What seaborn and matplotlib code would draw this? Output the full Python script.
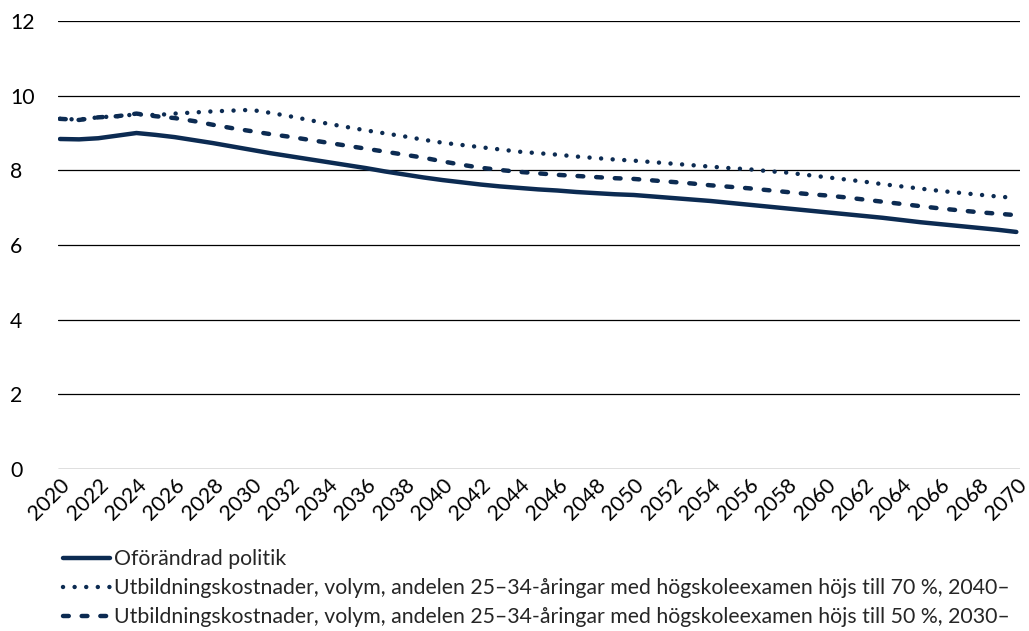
import pandas as pd
import matplotlib.pyplot as plt
import seaborn as sns

# --- Datos ---
years = list(range(2020, 2071))

oforandrad = [8.84, 8.83, 8.86, 8.93, 9.00, 8.95, 8.89, 8.81, 8.73, 8.64,
              8.55, 8.46, 8.38, 8.30, 8.22, 8.14, 8.06, 7.97, 7.89, 7.81,
              7.74, 7.68, 7.62, 7.57, 7.53, 7.49, 7.46, 7.42, 7.39, 7.36,
              7.34, 7.30, 7.26, 7.22, 7.18, 7.13, 7.08, 7.03, 6.98, 6.93,
              6.88, 6.83, 6.78, 6.73, 6.67, 6.61, 6.56, 6.51, 6.46, 6.41,
              6.35]

hojs_70 = [9.38, 9.36, 9.42, 9.45, 9.50, 9.48, 9.52, 9.55, 9.58, 9.60,
           9.62, 9.54, 9.45, 9.35, 9.25, 9.16, 9.07, 8.99, 8.91, 8.82,
           8.74, 8.68, 8.62, 8.56, 8.50, 8.46, 8.42, 8.37, 8.33, 8.29,
           8.26, 8.22, 8.18, 8.14, 8.10, 8.06, 8.03, 7.98, 7.94, 7.88,
           7.82, 7.76, 7.70, 7.63, 7.57, 7.51, 7.45, 7.40, 7.35, 7.30,
           7.26]

hojs_50 = [9.38, 9.35, 9.42, 9.45, 9.52, 9.45, 9.40, 9.32, 9.22, 9.13,
           9.05, 8.97, 8.90, 8.82, 8.74, 8.66, 8.58, 8.50, 8.42, 8.34,
           8.24, 8.15, 8.07, 8.01, 7.96, 7.92, 7.88, 7.85, 7.82, 7.79,
           7.77, 7.73, 7.69, 7.65, 7.60, 7.56, 7.52, 7.47, 7.42, 7.37,
           7.33, 7.28, 7.22, 7.16, 7.10, 7.04, 6.98, 6.93, 6.88, 6.84,
           6.80]

labels = [
    "Oförändrad politik",
    "Utbildningskostnader, volym, andelen 25–34-åringar med högskoleexamen höjs till 70 %, 2040–",
    "Utbildningskostnader, volym, andelen 25–34-åringar med högskoleexamen höjs till 50 %, 2030–",
]

df = pd.DataFrame({
    "år": years * 3,
    "värde": oforandrad + hojs_70 + hojs_50,
    "serie": [labels[0]] * len(years) + [labels[1]] * len(years) + [labels[2]] * len(years),
})

navy = "#0c2b52"
fs = 15.3

sns.set_theme(style="white")
plt.rcParams["font.family"] = ["Lato", "DejaVu Sans"]

fig = plt.figure(figsize=(10.29, 6.31), dpi=100)
ax = fig.add_axes([0.0564, 0.2567, 0.935, 0.71])

sns.lineplot(data=df, x="år", y="värde", style="serie", ax=ax,
             color=navy, linewidth=3.2,
             dashes={labels[0]: "", labels[1]: (0.01, 2.6), labels[2]: (1.3, 2.9)},
             legend=True)

for ln in ax.get_lines():
    ln.set_dash_capstyle("round")
    ln.set_solid_capstyle("round")

# --- Ejes ---
ax.set_xlim(2019.9, 2070.2)
ax.set_ylim(0, 12)
ax.set_yticks(range(0, 13, 2))
ax.set_xticks(range(2020, 2071, 2))
ax.set_xlabel("")
ax.set_ylabel("")
ax.grid(axis="y", color="black", linewidth=0.9)
ax.set_axisbelow(True)
for s in ax.spines.values():
    s.set_visible(False)

ax.tick_params(axis="both", length=0, labelsize=fs, colors="black")
ax.tick_params(axis="y", pad=34.5)
for t in ax.get_yticklabels():
    t.set_horizontalalignment("left")
for t in ax.get_xticklabels():
    t.set_rotation(45)
    t.set_horizontalalignment("right")
    t.set_rotation_mode("anchor")
ax.tick_params(axis="x", pad=4)

# --- Leyenda ---
leg = ax.legend(loc="upper left", bbox_to_anchor=(-0.0035, -0.16), frameon=False,
                fontsize=fs, handlelength=2.2, handletextpad=0.2,
                labelspacing=0.42, borderaxespad=0, title=None)
for h in leg.get_lines():
    h.set_color(navy)
    h.set_dash_capstyle("round")

fig.savefig("out.png", dpi=100)
